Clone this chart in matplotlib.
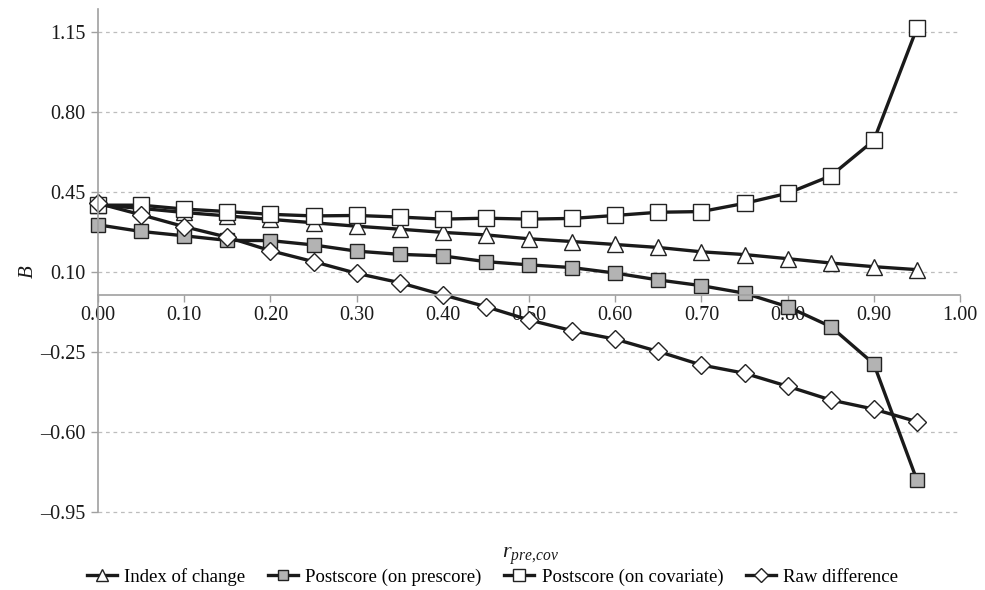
import matplotlib
matplotlib.use("Agg")
import matplotlib.pyplot as plt
import numpy as np

# data
r_pre_cov = [0.00, 0.05, 0.10, 0.15, 0.20, 0.25, 0.30, 0.35, 0.40, 0.45,
             0.50, 0.55, 0.60, 0.65, 0.70, 0.75, 0.80, 0.85, 0.90, 0.95]
index_of_change = [0.393, 0.378, 0.360, 0.345, 0.330, 0.315, 0.300, 0.287, 0.273, 0.262,
                   0.245, 0.233, 0.220, 0.207, 0.188, 0.176, 0.158, 0.139, 0.123, 0.110]
post_on_pre = [0.306, 0.277, 0.258, 0.238, 0.237, 0.218, 0.191, 0.177, 0.170, 0.145,
               0.131, 0.119, 0.095, 0.065, 0.040, 0.007, -0.052, -0.139, -0.302, -0.810]
post_on_cov = [0.392, 0.392, 0.375, 0.364, 0.352, 0.345, 0.347, 0.340, 0.331, 0.335,
               0.331, 0.334, 0.347, 0.361, 0.364, 0.400, 0.444, 0.520, 0.675, 1.166]
raw_difference = [0.400, 0.350, 0.298, 0.252, 0.193, 0.145, 0.094, 0.053, 0.000, -0.052,
                  -0.110, -0.157, -0.194, -0.248, -0.307, -0.343, -0.400, -0.460, -0.500, -0.555]

series_labels = ["Index of change", "Postscore (on prescore)",
                 "Postscore (on covariate)", "Raw difference"]
y_ticks = [-0.95, -0.60, -0.25, 0.10, 0.45, 0.80, 1.15]
x_ticks = [0.00, 0.10, 0.20, 0.30, 0.40, 0.50, 0.60, 0.70, 0.80, 0.90, 1.00]

plt.rcParams["font.family"] = ["Liberation Serif", "DejaVu Serif"]
plt.rcParams["mathtext.fontset"] = "custom"
plt.rcParams["mathtext.it"] = "Liberation Serif:italic"
plt.rcParams["mathtext.rm"] = "Liberation Serif"

fig = plt.figure(figsize=(9.85, 5.9), dpi=100)
ax = fig.add_axes([98 / 985, 1 - 512 / 590, (960 - 98) / 985, (512 - 9) / 590])

line_col = "#1a1a1a"
edge_col = "#222222"
styles = [
    dict(marker="^", mfc="white", ms=11),
    dict(marker="s", mfc="#b3b3b3", ms=10.5),
    dict(marker="s", mfc="white", ms=11),
    dict(marker="D", mfc="white", ms=9.5),
]
for vals, lab, st in zip([index_of_change, post_on_pre, post_on_cov, raw_difference],
                         series_labels, styles):
    ax.plot(r_pre_cov, vals, color=line_col, lw=2.4, marker=st["marker"],
            mfc=st["mfc"], mec=edge_col, mew=1.0, ms=st["ms"], label=lab, clip_on=False)

ax.set_xlim(0, 1.0)
ax.set_ylim(-0.95, 1.25)
ax.set_xticks(x_ticks)
ax.set_xticklabels([f"{v:.2f}" for v in x_ticks])
ax.set_yticks(y_ticks)
ax.set_yticklabels([f"{v:.2f}".replace("-", "\u2013") for v in y_ticks])

ax.yaxis.grid(True, color="#bdbdbd", linestyle=(0, (3, 3)), lw=0.9)
for gl in ax.yaxis.get_gridlines():
    gl.set_clip_on(False)
ax.set_axisbelow(True)

for s in ["top", "right"]:
    ax.spines[s].set_visible(False)
ax.spines["bottom"].set_position(("data", 0))
ax.spines["left"].set_color("#a0a0a0")
ax.spines["bottom"].set_color("#a0a0a0")
ax.spines["left"].set_linewidth(1.2)
ax.spines["bottom"].set_linewidth(1.2)
ax.tick_params(axis="both", colors="#a0a0a0", labelcolor="#1a1a1a",
               labelsize=14.5, length=5, width=1.0, direction="out")
ax.tick_params(axis="y", pad=4)
ax.tick_params(axis="x", pad=3)

fig.text(28 / 985, 1 - 272 / 590, "B", rotation=90, fontsize=15, style="italic",
         ha="center", va="center", color="#1a1a1a")
fig.text(530 / 985, 1 - 556 / 590, r"$r_{pre{,}cov}$", fontsize=16,
         ha="center", va="center", color="#1a1a1a")

fig.legend(loc="center", bbox_to_anchor=(0.5, 1 - 577 / 590), ncol=4, frameon=False,
           fontsize=13.5, handlelength=1.6, handletextpad=0.4, columnspacing=1.2,
           markerscale=0.75)

fig.savefig("out.png", dpi=100)
